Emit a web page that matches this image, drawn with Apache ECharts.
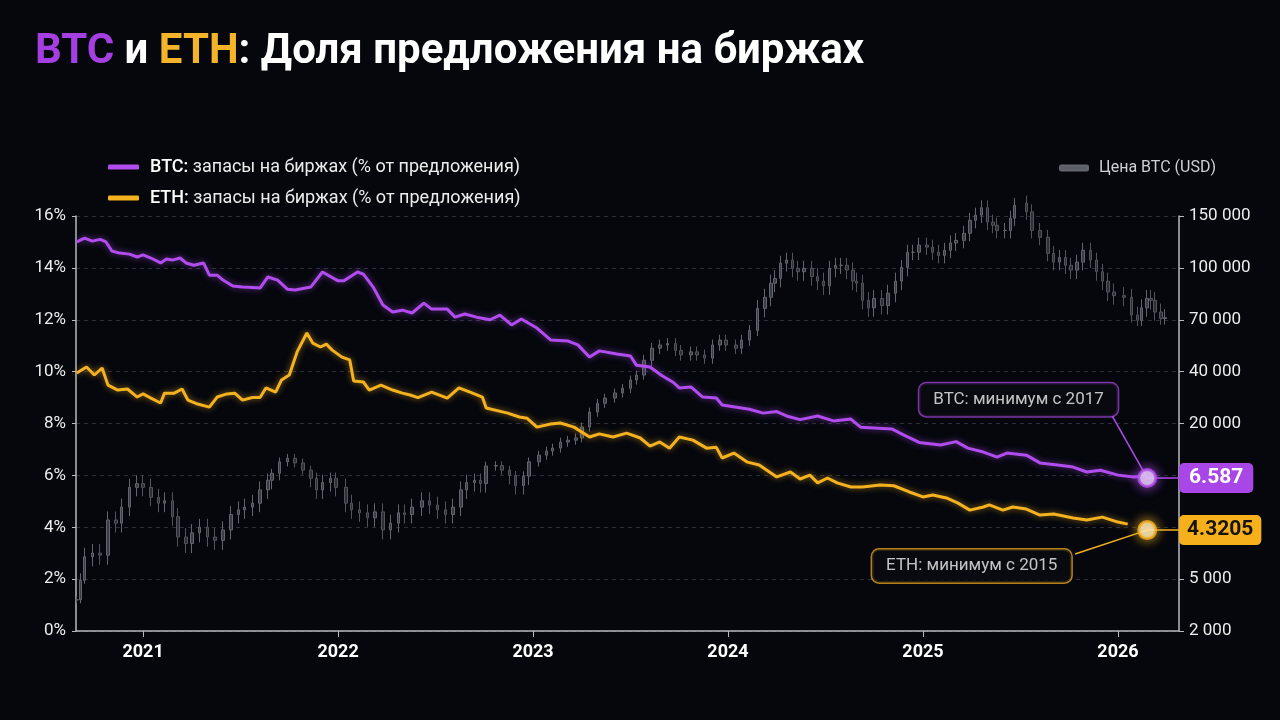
<!DOCTYPE html>
<html>
<head>
<meta charset="utf-8">
<script src="https://cdn.jsdelivr.net/npm/echarts@6/dist/echarts.min.js"></script>
<style>
html, body { margin: 0; padding: 0; background: #05070d; }
#chart { width: 1280px; height: 720px; }
</style>
</head>
<body>
<div id="chart"></div>
<script>
// доля BTC на биржах, % от предложения
var btcYears = [2020.66,2020.70,2020.74,2020.78,2020.81,2020.84,2020.88,2020.93,2020.97,
    2021.00,2021.04,2021.09,2021.12,2021.15,2021.19,2021.22,2021.26,2021.31,2021.34,2021.38,2021.41,2021.46,2021.51,2021.56,2021.60,2021.64,2021.69,2021.74,2021.78,2021.86,2021.92,
    2022.00,2022.03,2022.10,2022.13,2022.18,2022.23,2022.28,2022.33,2022.38,2022.44,2022.48,2022.56,2022.60,2022.65,2022.71,2022.78,2022.83,2022.89,2022.94,
    2023.02,2023.09,2023.18,2023.23,2023.29,2023.34,2023.43,2023.50,2023.53,2023.60,2023.66,2023.72,2023.75,2023.81,2023.87,2023.94,2023.97,
    2024.11,2024.18,2024.25,2024.30,2024.37,2024.46,2024.54,2024.63,2024.68,2024.84,2024.90,2024.98,
    2025.09,2025.17,2025.23,2025.31,2025.38,2025.43,2025.53,2025.60,2025.69,2025.77,2025.84,2025.91,
    2026.00,2026.08,2026.11];
var btcShare = [15.0,15.15,15.03,15.1,15.0,14.65,14.57,14.53,14.42,
    14.5,14.38,14.19,14.34,14.3,14.38,14.19,14.1,14.19,13.72,13.72,13.53,13.3,13.26,13.24,13.22,13.65,13.53,13.18,13.15,13.26,13.84,
    13.5,13.5,13.84,13.76,13.26,12.57,12.3,12.37,12.26,12.64,12.41,12.41,12.1,12.22,12.1,12.0,12.18,11.8,12.03,
    11.68,11.22,11.18,11.03,10.56,10.8,10.68,10.6,10.25,10.18,9.85,9.58,9.37,9.41,9.02,8.98,8.71,
    8.55,8.4,8.46,8.29,8.15,8.29,8.1,8.17,7.86,7.79,7.56,7.27,
    7.17,7.3,7.05,6.9,6.7,6.86,6.78,6.48,6.4,6.32,6.13,6.2,
    6.01,5.94,5.96];

// доля ETH на биржах, % от предложения
var ethYears = [2020.66,2020.71,2020.75,2020.79,2020.82,2020.87,2020.92,2020.97,
    2021.00,2021.04,2021.09,2021.11,2021.16,2021.20,2021.23,2021.28,2021.34,2021.38,2021.43,2021.47,2021.51,2021.56,2021.60,2021.63,2021.68,2021.71,2021.75,2021.79,2021.84,2021.87,2021.91,2021.94,2021.97,
    2022.02,2022.06,2022.08,2022.13,2022.16,2022.22,2022.28,2022.33,2022.37,2022.41,2022.48,2022.56,2022.62,2022.69,2022.74,2022.76,2022.87,2022.93,2022.97,
    2023.02,2023.09,2023.14,2023.21,2023.29,2023.34,2023.41,2023.48,2023.55,2023.60,2023.65,2023.70,2023.75,2023.82,2023.89,2023.94,2023.97,
    2024.03,2024.10,2024.16,2024.25,2024.32,2024.37,2024.42,2024.46,2024.51,2024.56,2024.63,2024.69,2024.78,2024.85,2024.93,
    2025.00,2025.05,2025.12,2025.18,2025.24,2025.31,2025.34,2025.41,2025.46,2025.53,2025.60,2025.67,2025.77,2025.84,2025.92,
    2026.00,2026.05];
var ethShare = [9.95,10.18,9.87,10.14,9.48,9.29,9.33,9.02,
    9.14,8.98,8.79,9.17,9.17,9.33,8.9,8.75,8.63,9.02,9.14,9.17,8.9,9.0,9.0,9.37,9.21,9.68,9.87,10.76,11.49,11.1,10.95,11.06,10.83,
    10.56,10.45,9.64,9.6,9.29,9.48,9.29,9.17,9.1,9.0,9.21,8.98,9.37,9.17,9.02,8.6,8.4,8.25,8.2,
    7.86,7.98,8.02,7.86,7.48,7.6,7.48,7.63,7.44,7.13,7.29,7.05,7.48,7.36,7.05,7.08,6.67,
    6.86,6.51,6.4,5.94,6.13,5.86,6.01,5.71,5.9,5.71,5.55,5.55,5.63,5.6,5.36,
    5.17,5.24,5.13,4.93,4.66,4.78,4.86,4.66,4.78,4.7,4.47,4.51,4.36,4.28,4.39,
    4.2,4.12];

// цена BTC (USD), закрытия свечей
var candleYears = [2020.66,2020.68,2020.70,2020.74,2020.78,2020.82,2020.86,2020.89,2020.93,2020.97,
    2021.00,2021.04,2021.08,2021.11,2021.15,2021.18,2021.22,2021.25,2021.29,2021.33,2021.37,2021.41,2021.45,2021.49,2021.52,2021.56,2021.60,2021.64,2021.66,2021.70,2021.74,2021.78,2021.82,2021.86,2021.89,2021.92,2021.96,2021.99,
    2022.04,2022.07,2022.11,2022.15,2022.19,2022.23,2022.27,2022.31,2022.34,2022.38,2022.43,2022.47,2022.51,2022.55,2022.59,2022.63,2022.66,2022.70,2022.73,2022.76,2022.81,2022.84,2022.88,2022.91,2022.95,2022.98,
    2023.03,2023.07,2023.10,2023.14,2023.18,2023.22,2023.25,2023.29,2023.33,2023.37,2023.42,2023.46,2023.50,2023.53,2023.57,2023.61,2023.65,2023.69,2023.73,2023.76,2023.81,2023.84,2023.88,2023.92,2023.96,2023.99,
    2024.04,2024.07,2024.11,2024.15,2024.19,2024.22,2024.24,2024.27,2024.30,2024.33,2024.36,2024.39,2024.43,2024.46,2024.49,2024.52,2024.55,2024.58,2024.61,2024.64,2024.66,2024.69,2024.72,2024.75,2024.79,2024.82,2024.86,2024.89,2024.92,2024.95,2024.98,
    2025.02,2025.05,2025.08,2025.11,2025.14,2025.17,2025.21,2025.24,2025.27,2025.30,2025.33,2025.36,2025.38,2025.42,2025.45,2025.47,2025.50,2025.53,2025.56,2025.60,2025.64,2025.67,2025.70,2025.73,2025.76,2025.79,2025.82,2025.86,2025.89,2025.92,2025.95,2025.98,
    2026.03,2026.07,2026.10,2026.12,2026.15,2026.17,2026.19,2026.22,2026.24];
var candleClose = [3470,4900,5780,5920,5840,7360,7200,8040,9210,9450,
    9210,8600,8260,8400,7530,6570,6300,6750,7000,6570,6430,6880,7640,7890,8040,8260,9050,9670,10280,11980,12570,11810,10720,9800,9050,9520,9800,9210,
    8260,7890,7730,7470,7780,6880,7200,7730,7640,8040,8400,8150,7890,7640,8040,9050,9520,9670,9450,11330,11400,10720,10000,9330,9950,11980,
    13100,13850,14400,15600,16000,16500,19100,23300,26200,28100,30100,32000,35800,38200,45200,51500,53300,54100,50300,47900,49500,47900,46300,53300,56200,53300,
    51500,56200,62400,75700,81700,90000,93000,103700,106300,99700,97400,99700,94200,91300,88400,99700,102000,102000,98500,91300,90000,80000,76000,81000,77200,84000,91300,100400,113000,113000,119500,
    117600,113000,110200,114700,121500,124000,131000,145000,151000,160000,143000,139500,134000,134000,147500,163000,166000,155000,134000,127000,112000,104600,108500,102000,98500,104600,114700,106300,97400,91300,84700,82600,
    81700,72300,69600,76000,81000,80000,73800,70600,71000];

// подписи правой оси (цена BTC) и годы
var priceTicks = [2000, 5000, 7000, 10000, 20000, 40000, 70000, 100000, 150000];
var yearTicks = [2021, 2022, 2023, 2024, 2025, 2026];

// отметки минимумов и подписи
var btcDot = [2026.15, 5.9];
var ethDot = [2026.15, 3.89];
var btcLast = '6.587';
var ethLast = '4.3205';
var btcNote = [2025.49, 8.92];
var btcNoteAnchor = [2025.97, 8.29];
var ethNote = [2025.25, 2.51];
var ethNoteAnchor = [2025.78, 2.97];

var X_MIN = 2020.656, X_MAX = 2026.313;
var PURPLE = '#b14cee', YELLOW = '#f5b220';
var FONT = 'Roboto, "Noto Sans", sans-serif';

// цена -> номер деления правой оси (кусочно-логарифмическая шкала)
function toSlot(p) {
    var i = 0;
    while (i < priceTicks.length - 2 && p > priceTicks[i + 1]) i++;
    return i + Math.log(p / priceTicks[i]) / Math.log(priceTicks[i + 1] / priceTicks[i]);
}
function fmtPrice(v) {
    return String(v).replace(/\B(?=(\d{3})+(?!\d))/g, ' ');
}

var btcData = btcYears.map(function (y, i) { return [y, btcShare[i]]; });
var ethData = ethYears.map(function (y, i) { return [y, ethShare[i]]; });
var candleData = candleYears.map(function (y, i) {
    var c = candleClose[i];
    var o = i > 0 ? candleClose[i - 1] : c;
    return [y, toSlot(o), toSlot(c), toSlot(Math.min(o, c) * 0.94), toSlot(Math.max(o, c) * 1.06)];
});

var BTC_NAME = 'BTC: запасы на биржах (% от предложения)';
var ETH_NAME = 'ETH: запасы на биржах (% от предложения)';
var PRICE_NAME = 'Цена BTC (USD)';

function noteLabel(text, color) {
    return {
        show: true,
        position: 'inside',
        formatter: text,
        color: '#f2f2f2',
        fontSize: 17,
        fontFamily: FONT,
        backgroundColor: '#0a0a12',
        borderColor: color,
        borderWidth: 1.5,
        borderRadius: 7,
        padding: [8, 14]
    };
}

var option = {
    backgroundColor: '#05070d',
    animation: false,
    textStyle: { fontFamily: FONT },
    title: {
        left: 30,
        top: 26,
        text: '{p|BTC}{w| и }{y|ETH}{w|: Доля предложения на биржах}',
        textStyle: {
            rich: {
                p: { color: '#a53fe2', fontSize: 42, fontWeight: 'bold', fontFamily: FONT },
                y: { color: '#f3b42a', fontSize: 42, fontWeight: 'bold', fontFamily: FONT },
                w: { color: '#ffffff', fontSize: 42, fontWeight: 'bold', fontFamily: FONT }
            }
        }
    },
    legend: [{
        left: 108,
        top: 158,
        padding: 0,
        orient: 'vertical',
        itemGap: 13,
        itemWidth: 31,
        itemHeight: 5,
        icon: 'roundRect',
        formatter: function (name) {
            var k = name.indexOf(':');
            return '{b|' + name.slice(0, k + 1) + '}{n|' + name.slice(k + 1) + '}';
        },
        textStyle: {
            color: '#ececec',
            fontSize: 18,
            fontFamily: FONT,
            rich: {
                b: { color: '#ffffff', fontSize: 18, fontWeight: 500, fontFamily: FONT, padding: [0, 0, 0, 6] },
                n: { color: '#ececec', fontSize: 18, fontFamily: FONT }
            }
        },
        data: [BTC_NAME, ETH_NAME]
    }, {
        right: 64,
        top: 160,
        padding: 0,
        itemWidth: 28,
        itemHeight: 5,
        icon: 'roundRect',
        formatter: function (name) { return '{n|' + name + '}'; },
        textStyle: {
            color: '#cfcfd4',
            fontSize: 16,
            fontFamily: FONT,
            rich: { n: { color: '#cfcfd4', fontSize: 16, fontFamily: FONT, padding: [0, 0, 0, 6] } }
        },
        data: [{ name: PRICE_NAME, itemStyle: { color: '#5c5e66' } }]
    }],
    grid: { left: 76, right: 101, top: 216, bottom: 89 },
    xAxis: {
        type: 'value',
        min: X_MIN,
        max: X_MAX,
        axisLine: { lineStyle: { color: '#b8b8bc', width: 1.5 } },
        axisTick: { show: true, customValues: yearTicks, length: 6, lineStyle: { color: '#b8b8bc' } },
        axisLabel: {
            customValues: yearTicks,
            color: '#ffffff',
            fontSize: 18,
            fontWeight: 'bold',
            margin: 12,
            formatter: function (v) { return String(Math.round(v)); }
        },
        splitLine: { show: false }
    },
    yAxis: [{
        type: 'value',
        min: 0,
        max: 16,
        interval: 2,
        axisLine: { show: true, lineStyle: { color: '#b8b8bc', width: 1.5 } },
        axisTick: { show: true, length: 4, lineStyle: { color: '#b8b8bc' } },
        axisLabel: { color: '#ececec', fontSize: 17, margin: 10, formatter: '{value}%' },
        splitLine: { lineStyle: { color: '#2b2e38', type: [4, 4], width: 1 } }
    }, {
        type: 'value',
        min: 0,
        max: 8,
        interval: 1,
        position: 'right',
        axisLine: { show: true, lineStyle: { color: '#b8b8bc', width: 1.5 } },
        axisTick: { show: true, length: 5, lineStyle: { color: '#b8b8bc' } },
        axisLabel: {
            color: '#ececec',
            fontSize: 17,
            margin: 10,
            formatter: function (v) { return fmtPrice(priceTicks[Math.round(v)]); }
        },
        splitLine: { show: false }
    }],
    series: [{
        name: PRICE_NAME,
        type: 'candlestick',
        xAxisIndex: 0,
        yAxisIndex: 1,
        barWidth: 3,
        encode: { x: 0, y: [1, 2, 3, 4] },
        itemStyle: {
            color: '#3a3d45',
            color0: '#2e3037',
            borderColor: '#62656e',
            borderColor0: '#52545c',
            borderWidth: 1
        },
        z: 1,
        data: candleData
    }, {
        name: ETH_NAME,
        type: 'line',
        showSymbol: false,
        symbol: 'none',
        color: YELLOW,
        lineStyle: { width: 3, color: YELLOW, shadowBlur: 6, shadowColor: 'rgba(245,178,32,0.6)' },
        z: 3,
        data: ethData
    }, {
        name: BTC_NAME,
        type: 'line',
        showSymbol: false,
        symbol: 'none',
        color: PURPLE,
        lineStyle: { width: 3, color: PURPLE, shadowBlur: 6, shadowColor: 'rgba(177,76,238,0.6)' },
        z: 3,
        data: btcData
    }, {
        // выноски к отметкам
        type: 'line',
        symbol: 'none',
        silent: true,
        lineStyle: { width: 1.5, color: PURPLE },
        z: 4,
        data: [btcNoteAnchor, btcDot]
    }, {
        type: 'line',
        symbol: 'none',
        silent: true,
        lineStyle: { width: 1.5, color: YELLOW },
        z: 4,
        data: [ethNoteAnchor, ethDot]
    }, {
        // отметка BTC и значение у оси
        type: 'scatter',
        symbolSize: 17,
        silent: true,
        itemStyle: { color: '#fbf6ff', borderColor: PURPLE, borderWidth: 3, shadowBlur: 12, shadowColor: PURPLE },
        z: 6,
        data: [btcDot],
        markLine: {
            silent: true,
            symbol: ['none', 'none'],
            lineStyle: { color: PURPLE, width: 1.5, type: 'solid' },
            label: {
                show: true,
                position: 'end',
                distance: 0,
                formatter: btcLast,
                color: '#ffffff',
                fontSize: 21,
                fontWeight: 'bold',
                fontFamily: FONT,
                backgroundColor: '#a846e8',
                borderRadius: 5,
                padding: [5, 10, 4, 10]
            },
            data: [[{ coord: btcDot }, { coord: [X_MAX, btcDot[1]] }]]
        }
    }, {
        type: 'scatter',
        symbolSize: 17,
        silent: true,
        itemStyle: { color: '#fffbe8', borderColor: YELLOW, borderWidth: 3, shadowBlur: 12, shadowColor: YELLOW },
        z: 6,
        data: [ethDot],
        markLine: {
            silent: true,
            symbol: ['none', 'none'],
            lineStyle: { color: YELLOW, width: 1.5, type: 'solid' },
            label: {
                show: true,
                position: 'end',
                distance: 0,
                formatter: ethLast,
                color: '#16130a',
                fontSize: 21,
                fontWeight: 'bold',
                fontFamily: FONT,
                backgroundColor: '#f5b01c',
                borderRadius: 5,
                padding: [5, 8, 4, 8]
            },
            data: [[{ coord: ethDot }, { coord: [X_MAX, ethDot[1]] }]]
        }
    }, {
        // подписи-выноски
        type: 'scatter',
        symbolSize: 1,
        silent: true,
        itemStyle: { color: 'rgba(0,0,0,0)' },
        z: 7,
        label: noteLabel('BTC: минимум с 2017', 'rgba(177,76,238,0.85)'),
        data: [btcNote]
    }, {
        type: 'scatter',
        symbolSize: 1,
        silent: true,
        itemStyle: { color: 'rgba(0,0,0,0)' },
        z: 7,
        label: noteLabel('ETH: минимум с 2015', 'rgba(245,178,32,0.9)'),
        data: [ethNote]
    }]
};

var chart = echarts.init(document.getElementById('chart'));
chart.setOption(option);
window.addEventListener('resize', function () {
    chart.resize();
});
</script>
</body>
</html>
